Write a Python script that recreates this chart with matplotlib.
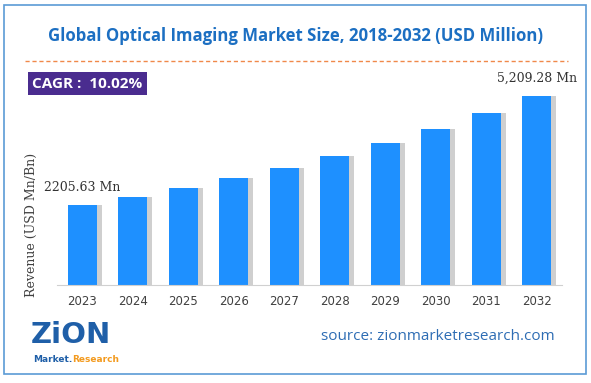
import matplotlib.pyplot as plt
from matplotlib.patches import Rectangle
import numpy as np

# ---------------------------------------------------------------------------
# Data
# ---------------------------------------------------------------------------
years   = ["2023", "2024", "2025", "2026", "2027", "2028", "2029", "2030", "2031", "2032"]
revenue = [2205.63, 2426.6, 2669.8, 2937.3, 3231.6, 3555.4, 3911.6, 4303.5, 4734.7, 5209.28]
first_label = "2205.63 Mn"
last_label  = "5,209.28 Mn"
title  = "Global Optical Imaging Market Size, 2018-2032 (USD Million)"
cagr   = "CAGR :  10.02%"
source = "source: zionmarketresearch.com"

BAR_BLUE   = "#1E90FF"
TITLE_BLUE = "#1C6FC2"

W, H = 591, 383
fig = plt.figure(figsize=(W / 100, H / 100), dpi=100)


def fx(px):
    return px / W


def fy(py):
    return 1 - py / H


# outer frame
fig.patches.append(Rectangle((fx(4), fy(374)), fx(582), 369 / H, transform=fig.transFigure,
                             fill=False, edgecolor="#5B9BD5", linewidth=1.2))

# title + dashed rule
fig.text(fx(295), fy(36), title, ha="center", va="center", fontsize=12.1,
         fontweight="bold", color=TITLE_BLUE, family="Open Sans")
fig.add_artist(plt.Line2D([fx(25), fx(568)], [fy(61), fy(61)], transform=fig.transFigure,
                          color="#F0894A", linestyle=(0, (3, 2)), linewidth=1))

# CAGR box
fig.patches.append(Rectangle((fx(28), fy(95)), fx(119), 23 / H, transform=fig.transFigure,
                             facecolor="#4A2C8F", edgecolor="none"))
fig.text(fx(87), fy(84), cagr, ha="center", va="center", fontsize=11,
         fontweight="bold", color="white", family="Open Sans")

# ---------------------------------------------------------------------------
# Bars
# ---------------------------------------------------------------------------
ax = fig.add_axes([fx(57), fy(285), fx(505), (285 - 60) / H])
x = np.arange(len(years))
# shadow
ax.bar(x + 0.1, revenue, width=0.57, color="#B0B0B0", alpha=0.6, zorder=1)
ax.bar(x, revenue, width=0.57, color=BAR_BLUE, zorder=2)
ax.set_xlim(-0.5, len(years) - 0.5)
ax.set_ylim(0, 6200)
ax.set_xticks(x)
ax.set_xticklabels(years, fontsize=8.5, color="#404040", family="DejaVu Sans")
ax.tick_params(axis="x", length=0, pad=7)
ax.set_yticks([])
for s in ["top", "right", "left"]:
    ax.spines[s].set_visible(False)
ax.spines["bottom"].set_color("#D0D0D0")
ax.patch.set_alpha(0)

ax.text(0, revenue[0] + 300, first_label, ha="center", va="bottom", fontsize=9,
        color="#333333", family="DejaVu Serif")
ax.text(9, revenue[-1] + 300, last_label, ha="center", va="bottom", fontsize=9,
        color="#333333", family="DejaVu Serif", clip_on=False)

fig.text(fx(31), fy(225), "Revenue (USD Mn/Bn)", rotation=90, ha="center", va="center",
         fontsize=9, color="#404040", family="DejaVu Serif")

# ---------------------------------------------------------------------------
# Footer: logo + source
# ---------------------------------------------------------------------------
fig.text(fx(31), fy(335), "ZiON", ha="left", va="center", fontsize=21,
         fontweight="bold", color="#1F5FA8", family="DejaVu Sans")
mk = fig.text(fx(33), fy(359), "Market.", ha="left", va="center", fontsize=6.5,
              fontweight="bold", color="#1F5FA8", family="DejaVu Sans")
fig.add_artist(plt.Annotation("Research", xy=(1, 0.5), xycoords=mk, ha="left", va="center",
                              fontsize=6.5, fontweight="bold", color="#F39A1E",
                              family="DejaVu Sans"))
fig.text(fx(438), fy(336), source, ha="center", va="center", fontsize=11,
         color="#2E6DB4", family="Open Sans")

fig.savefig("out.png", dpi=100)
